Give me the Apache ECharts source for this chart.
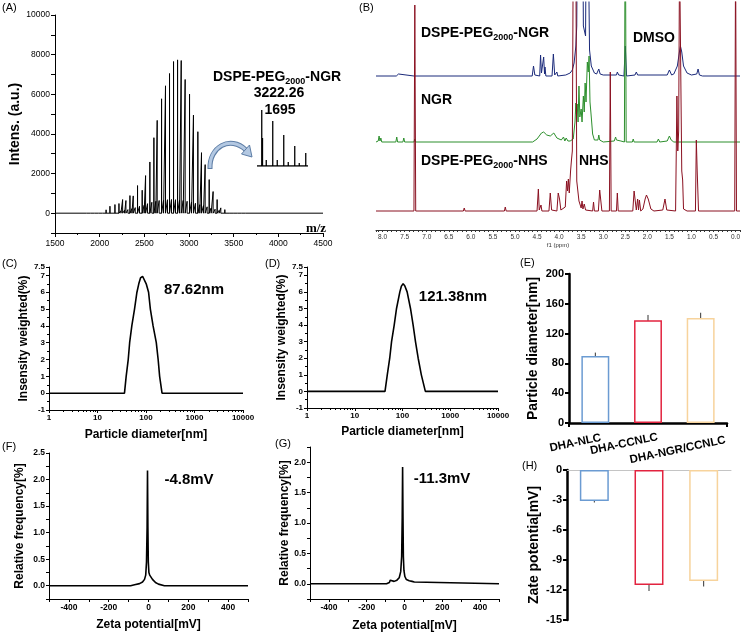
<!DOCTYPE html>
<html><head><meta charset="utf-8">
<script src="https://cdn.jsdelivr.net/npm/echarts@6/dist/echarts.min.js"></script>
<style>html,body{margin:0;padding:0;background:#fff}#c{width:746px;height:636px}</style>
</head><body><div id="c"></div>
<script>
const FONT = '"Liberation Sans", Arial, sans-serif';
const K = '#000';

// ---------- Panel A : MALDI spectrum ----------
const msMainMz  = [1850,1895,1940,1985,2030,2072,2115,2171,2216,2257,2294,2339,2376,2424,2476,2514,2562,2607,2644,2693,2737,2782,2827,2872,2913,2957,3006,3050,3099,3140,3181,3226,3270,3315,3356,3401,3449,3494,3540,3585,3630];
const msMainInt = [20,30,40,60,100,170,352,436,487,688,638,889,872,1393,1158,1896,2584,3809,4682,5772,6427,7048,7652,7736,7702,6746,6007,4950,4111,3054,2450,1695,1091,688,268,180,100,60,30,15,8];
const msSatMz   = [2137,2193,2238,2279,2316,2361,2398,2446,2498,2536,2584,2629,2666,2715,2759,2804,2849,2894,2935,2979,3028,3072,3121,3162,3203,3248,3292,3337,3378,3423,3471];
const msSatInt  = [80,100,120,150,180,230,280,350,400,480,550,600,640,650,680,690,680,660,640,600,560,500,430,380,320,260,200,140,90,60,40];
const insetMz   = [3222,3225,3240,3266,3284,3310,3328,3354,3372,3398];
const insetInt  = [56,28,6,45,6,31,4,20,3,13];
const msTicksY  = [0,2000,4000,6000,8000,10000];

// ---------- Panel B : 1H NMR ----------
const nmrBlue = [[8.15,0],[7.69,0],[7.68,2],[7.66,0],[7.64,2],[7.62,0],[7.29,0],[7.27,2],[7.25,0],[4.61,0],[4.58,10],[4.55,1],[4.44,0],[4.42,21],[4.40,3],[4.37,1],[4.35,19],[4.33,2],[4.32,9],[4.30,0],[4.16,0],[4.13,22],[4.10,1],[4.06,0],[4.05,4],[4.03,0],[3.85,1],[3.75,3],[3.70,6],[3.66,13],[3.62,30],[3.60,50],[3.57,260],[3.48,260],[3.45,50],[3.40,40],[3.37,260],[3.33,260],[3.31,26],[3.27,10],[3.20,3],[3.15,2],[3.10,7],[3.07,2],[3.0,1],[2.70,1],[2.68,4],[2.65,1],[2.53,0],[2.50,30],[2.47,0],[2.28,1],[2.25,4],[2.22,1],[1.55,1],[1.50,6],[1.45,1],[1.40,2],[1.32,10],[1.27,25],[1.25,30],[1.22,24],[1.18,10],[1.10,3],[1.0,1],[0.88,2],[0.85,7],[0.82,1],[0.75,0],[-0.1,0]];
const nmrGreen = [[8.15,0],[8.10,1],[8.08,6],[8.06,1],[8.04,4],[8.02,0],[7.70,0],[7.68,5],[7.66,0],[7.54,0],[7.52,4],[7.50,0],[7.29,0],[7.27,3],[7.25,0],[4.60,0],[4.50,3],[4.40,9],[4.35,10],[4.28,7],[4.20,6],[4.12,9],[4.05,4],[3.95,2],[3.90,5],[3.87,1],[3.84,4],[3.80,1],[3.75,1],[3.68,3],[3.64,20],[3.62,39],[3.61,28],[3.59,38],[3.57,20],[3.55,56],[3.53,25],[3.50,33],[3.48,20],[3.45,46],[3.43,30],[3.41,59],[3.39,40],[3.36,80],[3.34,70],[3.32,86],[3.30,40],[3.28,30],[3.24,8],[3.20,2],[3.12,2],[3.10,7],[3.08,2],[3.0,0],[2.75,1],[2.72,5],[2.70,2],[2.66,3],[2.60,1],[2.52,0],[2.50,260],[2.48,0],[2.34,0],[2.32,3],[2.30,0],[1.78,0],[1.75,3],[1.72,0],[1.55,1],[1.50,6],[1.46,2],[1.44,3],[1.40,0],[-0.1,0]];
const nmrRed = [[8.15,0],[7.29,0],[7.27,206],[7.25,0],[6.17,0],[6.15,3],[6.13,0],[5.24,0],[5.22,4],[5.20,0],[4.50,0],[4.47,22],[4.45,1],[4.41,6],[4.39,0],[4.23,0],[4.20,18],[4.17,1],[4.05,0],[4.02,18],[3.99,12],[3.96,1],[3.86,4],[3.83,30],[3.81,20],[3.79,32],[3.77,18],[3.74,40],[3.72,51],[3.70,60],[3.68,260],[3.62,260],[3.60,30],[3.55,10],[3.50,3],[3.48,10],[3.46,2],[3.43,7],[3.40,1],[3.24,0],[3.22,9],[3.20,0],[3.11,0],[3.08,21],[3.06,19],[3.03,0],[2.86,0],[2.84,139],[2.82,0],[2.70,0],[2.68,18],[2.66,0],[2.33,0],[2.30,20],[2.28,18],[2.25,1],[2.22,12],[2.20,1],[2.18,11],[2.15,0],[2.10,2],[2.05,12],[2.02,16],[1.98,12],[1.92,2],[1.85,0],[1.65,1],[1.60,12],[1.56,1],[1.36,0],[1.33,115],[1.31,60],[1.29,80],[1.27,260],[1.24,260],[1.22,40],[1.20,31],[1.18,2],[1.10,0],[0.91,0],[0.89,71],[0.87,40],[0.86,40],[0.84,0],[0.02,0],[0.00,260],[-0.02,0],[-0.1,0]];

// ---------- Panels C / D : DLS size distribution ----------
const dlsCd = [1,36,39,43,46,51,58,65,71,77,85,93,101,113,123,140,163,178,191,214,10000];
const dlsCv = [0,0,1,2,3,4,5,6,6.5,6.85,6.95,6.85,6.5,6,5,4,3,2,1,0,0];
const dlsDd = [1,43,48,54,59,67,75,88,95,103,112,125,147,167,187,213,248,301,10000];
const dlsDv = [0,0,1,2,3,4,5,6,6.35,6.5,6.35,6,5,4,3,2,1,0,0];

// ---------- Panels F / G : zeta distribution ----------
const zetaFx = [-500,-90,-70,-65,-60,-45,-30,-20,-14,-10,-7,-5,-3,-1,2,6,12,20,35,50,55,60,80,500];
const zetaFy = [0,0,0.02,0.04,0.02,0.04,0.07,0.12,0.2,0.45,1.1,2.17,1.1,0.45,0.25,0.2,0.17,0.12,0.06,0.03,0.05,0.02,0,0];
const zetaGx = [-500,-95,-80,-75,-70,-55,-40,-28,-20,-15,-12,-10,-8,-6,-3,2,10,25,40,48,52,60,500];
const zetaGy = [0,0,0.02,0.06,0.04,0.04,0.06,0.1,0.2,0.45,1.1,1.92,1.1,0.45,0.22,0.12,0.07,0.05,0.04,0.06,0.03,0,0];

// ---------- Panels E / H : bars ----------
const cats     = ['DHA-NLC','DHA-CCNLC','DHA-NGR/CCNLC'];
const sizeMean = [90,138,141];
const sizeErr  = [4.5,7,7];
const zetaMean = [-3.1,-11.5,-11.1];
const zetaErr  = [0.15,0.6,0.55];

const barColors = ['#6b9bd2','#e2233f','#f7d39c'];

function sticks(xmin, xmax, groups){
  const pk = [];
  groups.forEach(([mz, it]) => mz.forEach((m,i) => pk.push([m, it[i]])));
  pk.sort((a,b)=>a[0]-b[0]);
  const d = [[xmin,0]];
  pk.forEach(([m,h]) => { d.push([m,0],[m,h],[m,0]); });
  d.push([xmax,0]);
  return d;
}
function zip(a,b){ return a.map((v,i)=>[v,b[i]]); }
function offs(arr, o){ return arr.map(p=>[p[0], p[1]+o]); }

function ax(extra){
  const a = {
    type:'value',
    axisLine:{show:true,onZero:false,lineStyle:{color:K,width:1}},
    axisTick:{show:true,length:3,lineStyle:{color:K,width:1}},
    axisLabel:{color:K,fontFamily:FONT,fontSize:8,fontWeight:'bold',margin:4},
    splitLine:{show:false},
    nameLocation:'middle',
    nameTextStyle:{color:K,fontFamily:FONT,fontSize:12,fontWeight:'bold'}
  };
  for (const k in extra){
    if (a[k] && typeof a[k]==='object' && extra[k] && typeof extra[k]==='object' && !Array.isArray(extra[k])) a[k] = Object.assign({}, a[k], extra[k]);
    else a[k] = extra[k];
  }
  return a;
}
const minor = (n)=>({show:true,splitNumber:n,length:2,lineStyle:{color:K,width:1}});
const plainFmt = v => String(Math.round(v));
const halfFmt = v => (v > -1e-9 && Math.abs(v*2-Math.round(v*2))<1e-6) ? (Math.round(v*2)/2).toFixed(1) : '';
const zetaFmt = v => (Math.abs(v)<=400 && Math.round(v)%200===0) ? String(Math.round(v)) : '';
const ppmFmt = v => { const r = Math.round(v*2)/2; return (Math.abs(v-r)<1e-6 && r>=0 && r<=8) ? r.toFixed(1) : ''; };

const chart = echarts.init(document.getElementById('c'), null, {renderer:'canvas'});

const grid = [
  {left:55, top:15, width:268, height:218},   // A
  {left:257, top:110, width:51, height:56},   // A inset
  {left:376, top:2, width:364, height:228},   // B
  {left:49, top:267, width:194, height:143},  // C
  {left:307, top:267, width:191, height:141}, // D
  {left:569, top:274, width:158, height:149}, // E
  {left:49, top:453, width:199, height:146},  // F
  {left:310, top:447, width:189, height:152}, // G
  {left:567, top:470, width:164, height:150}  // H
];

const xAxis = [
  ax({gridIndex:0, min:1500, max:4500, interval:500, axisTick:{length:4}, minorTick:minor(2),
      axisLabel:{fontSize:8.5, fontWeight:'normal', margin:6, formatter:plainFmt}}),
  {gridIndex:1, type:'value', min:3203, max:3407, show:false},
  ax({gridIndex:2, inverse:true, min:-0.1, max:8.15, interval:0.1,
      axisLine:{lineStyle:{color:'#333',width:1}}, axisTick:{length:2,lineStyle:{color:'#333',width:1}},
      axisLabel:{fontSize:6.5, fontWeight:'normal', color:'#333', margin:4, formatter:ppmFmt},
      name:'f1 (ppm)', nameGap:11, nameTextStyle:{fontSize:6, fontWeight:'normal', color:'#333'}}),
  ax({gridIndex:3, type:'log', logBase:10, min:1, max:10000, minorTick:minor(9),
      axisLabel:{formatter:plainFmt}, name:'Particle diameter[nm]', nameGap:19}),
  ax({gridIndex:4, type:'log', logBase:10, min:1, max:10000, minorTick:minor(9),
      axisLabel:{formatter:plainFmt}, name:'Particle diameter[nm]', nameGap:18}),
  {gridIndex:5, type:'category', data:cats,
      axisLine:{show:true,onZero:false,lineStyle:{color:K,width:2.5}},
      axisTick:{show:true,length:4,lineStyle:{color:K,width:2}},
      axisLabel:{show:false}, splitLine:{show:false}},
  ax({gridIndex:6, min:-500, max:500, interval:100, axisLabel:{fontSize:8.5, formatter:zetaFmt},
      name:'Zeta potential[mV]', nameGap:20}),
  ax({gridIndex:7, min:-500, max:500, interval:100, axisLabel:{fontSize:8.5, formatter:zetaFmt},
      name:'Zeta potential[mV]', nameGap:21}),
  {gridIndex:8, type:'category', data:cats, position:'top',
      axisLine:{show:true,lineStyle:{color:'#c4c4c4',width:1}},
      axisTick:{show:false}, axisLabel:{show:false}, splitLine:{show:false}}
];

const yAxis = [
  ax({gridIndex:0, min:-1000, max:10000, interval:1000, axisTick:{length:4},
      axisLabel:{fontSize:8.5, fontWeight:'normal', margin:5, formatter: v => msTicksY.indexOf(v)>=0 ? String(v) : ''},
      name:'Intens. (a.u.)', nameGap:30, nameTextStyle:{fontSize:14}}),
  {gridIndex:1, type:'value', min:0, max:56, show:false},
  {gridIndex:2, type:'value', min:0, max:228, show:false},
  ax({gridIndex:3, min:-1, max:7.5, interval:1, minorTick:minor(2), name:'Insensity weighted(%)', nameGap:18}),
  ax({gridIndex:4, min:-1, max:7.5, interval:1, minorTick:minor(2), name:'Insensity weighted(%)', nameGap:19}),
  ax({gridIndex:5, min:0, max:200, interval:40,
      axisLine:{lineStyle:{color:K,width:2.5}}, axisTick:{length:4,lineStyle:{color:K,width:2}},
      axisLabel:{fontSize:11, margin:5}, name:'Particle diameter[nm]', nameGap:29, nameTextStyle:{fontSize:14}}),
  ax({gridIndex:6, min:-0.25, max:2.5, interval:0.25, axisLabel:{fontSize:8.5, formatter:halfFmt},
      name:'Relative frequency[%]', nameGap:23}),
  ax({gridIndex:7, min:-0.25, max:2.25, interval:0.25, axisLabel:{fontSize:8.5, formatter:halfFmt},
      name:'Relative frequency[%]', nameGap:19}),
  ax({gridIndex:8, min:-15, max:0, interval:3,
      axisLine:{lineStyle:{color:K,width:2.5}}, axisTick:{length:4,lineStyle:{color:K,width:2}},
      axisLabel:{fontSize:11, margin:5}, name:'Zate potentia[mV]', nameGap:26, nameTextStyle:{fontSize:14}})
];

function lineS(xi, data, color, w, extra){
  return Object.assign({type:'line', xAxisIndex:xi, yAxisIndex:xi, data:data, symbol:'none', silent:true,
    clip:true, lineStyle:{color:color, width:w}, itemStyle:{color:color}}, extra||{});
}
function errSeries(idx, means, errs){
  return {type:'custom', xAxisIndex:idx, yAxisIndex:idx, silent:true,
    data: means.map((m,i)=>[i, m, errs[i]]), encode:{x:0,y:1},
    renderItem:(params, api)=>{
      const i = api.value(0), m = api.value(1), e = api.value(2);
      const p1 = api.coord([i, m+e]), p2 = api.coord([i, m-e]);
      return {type:'line', shape:{x1:p1[0],y1:p1[1],x2:p2[0],y2:p2[1]}, style:{stroke:'#333',lineWidth:1}};
    }};
}
function barSeries(idx, means){
  return {type:'bar', xAxisIndex:idx, yAxisIndex:idx, barWidth:'53%', silent:true,
    data: means.map((v,i)=>({value:v, itemStyle:{color:'#fff', borderColor:barColors[i], borderWidth:1.5}}))};
}

const series = [
  lineS(0, sticks(1500, 4500, [[msMainMz, msMainInt],[msSatMz, msSatInt]]), '#000', 1),
  lineS(1, sticks(3203, 3407, [[insetMz, insetInt]]), '#000', 1.3),
  lineS(2, offs(nmrBlue, 154), '#1b2a7a', 1),
  lineS(2, offs(nmrGreen, 88), '#2d8f2d', 1),
  lineS(2, offs(nmrRed, 19), '#8a1020', 1),
  lineS(3, zip(dlsCd, dlsCv), '#000', 1.6),
  lineS(4, zip(dlsDd, dlsDv), '#000', 1.6),
  barSeries(5, sizeMean), errSeries(5, sizeMean, sizeErr),
  lineS(6, zip(zetaFx, zetaFy), '#000', 1.6),
  lineS(7, zip(zetaGx, zetaGy), '#000', 1.6),
  barSeries(8, zetaMean), errSeries(8, zetaMean, zetaErr)
];

chart.setOption({animation:false, backgroundColor:'#fff', grid, xAxis, yAxis, series});

// ---------- annotations ----------
function txt(x, y, s, size, opts){
  return {type:'text', x:x, y:y, silent:true,
    style:Object.assign({text:s, fontSize:size, fontFamily:FONT, fontWeight:'bold', fill:'#000',
      align:'left', verticalAlign:'middle'}, opts||{})};
}
function pegText(x, y, tail){
  return {type:'text', x:x, y:y, silent:true,
    style:{text:'{b|DSPE-PEG}{s|2000}{b|' + tail + '}', align:'left', verticalAlign:'middle',
      rich:{b:{fontSize:14, fontWeight:'bold', fontFamily:FONT, fill:'#000'},
            s:{fontSize:9, fontWeight:'bold', fontFamily:FONT, fill:'#000', padding:[9,0,0,0]}}}};
}
const g = [];
const plab = [['(A)',2,8],['(B)',359,8],['(C)',2,264],['(D)',265,264],['(E)',520,263],['(F)',2,447],['(G)',275,444],['(H)',522,466]];
plab.forEach(p => g.push(txt(p[1], p[2], p[0], 11, {fontWeight:'normal'})));
// Panel A texts
g.push(pegText(213, 77, '-NGR'));
g.push(txt(279, 93, '3222.26', 14, {align:'center'}));
g.push(txt(280, 110, '1695', 14, {align:'center'}));
g.push({type:'text', x:316, y:228.5, silent:true, style:{text:'m/z', fontSize:13, fontWeight:'bold',
  fontFamily:'"Liberation Serif", "Times New Roman", serif', fill:'#000', align:'center', verticalAlign:'middle'}});
// curved arrow
g.push({type:'bezierCurve', silent:true, shape:{x1:210,y1:169,cpx1:209,cpy1:147,cpx2:230,cpy2:135,x2:246,y2:150},
  style:{stroke:'#5e7ea6', lineWidth:5, fill:null}});
g.push({type:'bezierCurve', silent:true, shape:{x1:210,y1:168,cpx1:209,cpy1:147,cpx2:230,cpy2:135,x2:246,y2:150},
  style:{stroke:'#b3c8e2', lineWidth:3, fill:null}});
g.push({type:'polygon', silent:true, shape:{points:[[252,157],[241.5,154],[249.5,145]]},
  style:{fill:'#b3c8e2', stroke:'#5e7ea6', lineWidth:1}});
// Panel B texts
g.push(pegText(421, 33, '-NGR'));
g.push(txt(633, 38, 'DMSO', 14));
g.push(txt(421, 100, 'NGR', 14));
g.push(pegText(421, 161, '-NHS'));
g.push(txt(579, 161, 'NHS', 14));
// peak labels
g.push(txt(194, 290, '87.62nm', 15, {align:'center'}));
g.push(txt(453, 297, '121.38nm', 15, {align:'center'}));
g.push(txt(189, 480, '-4.8mV', 15, {align:'center'}));
g.push(txt(442, 479, '-11.3mV', 15, {align:'center'}));
// E category labels (positioned through the axis scale)
const labOff = [[-20,20],[-24,21],[-23,27]];
cats.forEach((c,i)=>{
  const p = chart.convertToPixel({gridIndex:5}, [c, 0]);
  g.push({type:'text', x:p[0]+labOff[i][0], y:p[1]+labOff[i][1], rotation:12*Math.PI/180, silent:true,
    style:{text:c, fontSize:11.5, fontWeight:'bold', fontFamily:FONT, fill:'#000', align:'center', verticalAlign:'middle'}});
});
chart.setOption({graphic:{elements:g}});
</script></body></html>
